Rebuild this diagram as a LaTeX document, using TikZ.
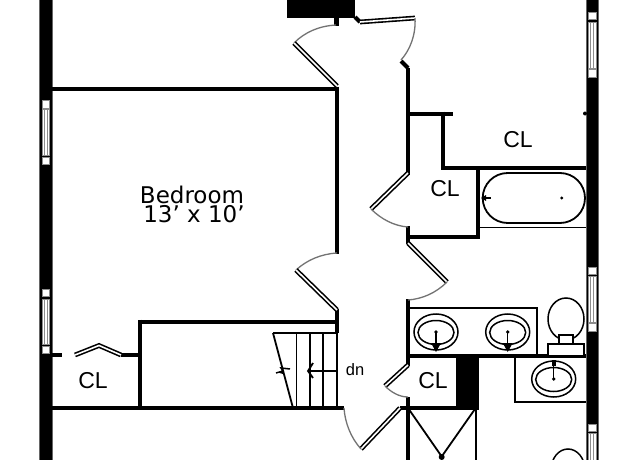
\documentclass[tikz,border=0pt]{standalone}
\usepackage{fontspec}
\setmainfont{Liberation Sans}
\newfontfamily\planfont{DejaVu Sans}
\tikzset{
  x=1pt,y=-1pt,
  wall/.style={line width=4pt,line cap=butt,black},
  thick wall/.style={fill=black,draw=black!60,line width=.6pt},
  thin/.style={line width=1.8pt,black},
  fine/.style={line width=1.5pt,black},
  swing/.style={line width=1.3pt,black!55},
  leaf/.style={double=white,double distance=1.6pt,line width=1.6pt,black},
  pane/.style={draw=black!45,fill=white,line width=.7pt},
  label/.style={font=\fontsize{23}{23}\selectfont,inner sep=0pt},
}
\newcommand{\planwindow}[6]{%
  \draw[pane] (#1,#3) rectangle (#2,#3+7.5);
  \draw[pane] (#1,#4) rectangle (#2,#5);
  \draw[draw=black!45,line width=.7pt] (#1+2.5,#4) -- (#1+2.5,#5) (#2-2.5,#4) -- (#2-2.5,#5);
  \draw[pane] (#1,#6) rectangle (#2,#6+7.5);
}
\newcommand{\plansink}[3]{%
  \draw[fine] (#1,#2) ellipse [x radius=22,y radius=18];
  \draw[fine] (#1,#2+.5) ellipse [x radius=18,y radius=12];
  \fill (#1,#2) circle (1.8);
  \draw[line width=1.2pt] (#1,#2) -- (#1,#3);
}
\begin{document}
\begin{tikzpicture}
\useasboundingbox (0,0) rectangle (640,460);
\clip (0,0) rectangle (640,460);
\fill[white] (0,0) rectangle (640,460);
% outer walls
\path[thick wall] (39,-2) rectangle (52,462);
\path[thick wall] (586,-2) rectangle (598,462);
% windows
\planwindow{42}{49.5}{100.5}{109}{155}{157}
\planwindow{42}{49.5}{289}{299}{344}{346}
\planwindow{588}{596}{12}{22}{68}{69.5}
\planwindow{588}{596}{267}{276}{322}{323.5}
\planwindow{588}{596}{424}{433}{480}{480}
% black blocks
\fill (287,0) rectangle (355,18);
\fill (455.5,356) rectangle (479,408);
\fill (334,18) rectangle (338.5,26);
% interior walls
\draw[wall] (52,89) -- (339,89);
\draw[wall] (337,87) -- (337,254);
\draw[wall] (337,309) -- (337,333);
\draw[wall] (140,321.5) -- (339,321.5);
\draw[wall] (140,319.5) -- (140,410);
\draw[wall] (52,408) -- (344,408);
\draw[wall] (52,355) -- (62,355);
\draw[wall] (121,355) -- (140,355);
\draw[wall] (408,68) -- (408,175);
\draw[wall] (401,61) -- (408,68);
\draw[wall] (406,113.5) -- (453,113.5);
\draw[wall] (443,111.5) -- (443,170);
\draw[wall] (441,167.5) -- (586,167.5);
\draw[wall] (478,166) -- (478,239);
\draw[wall] (406,237) -- (480,237);
\draw[wall] (408,226) -- (408,244);
\draw[wall] (408,299) -- (408,366);
\draw[wall] (406,356) -- (586,356);
\draw[wall] (408,397) -- (408,460);
\draw[wall] (400,408) -- (479,408);
\draw[wall] (355,17) -- (360,22);
% door leaves and swings
\draw[leaf] (360,22) -- (415,18);
\draw[swing] (415,18) .. controls (416,35) and (410,50) .. (401,60);
\draw[swing] (336,25) .. controls (319,26) and (305,32) .. (294,43);
\draw[leaf] (294,43) -- (337,86);
\draw[leaf] (408,173) -- (371,209);
\draw[swing] (371,209) .. controls (381,219) and (394,226) .. (408,227);
\draw[leaf] (408,243) -- (447,282);
\draw[swing] (447,282) .. controls (436,293) and (422,299) .. (408,300);
\draw[swing] (337,253) .. controls (321,254) and (307,260) .. (296,270);
\draw[leaf] (296,270) -- (337,310);
\draw[leaf] (408,365) -- (385,386);
\draw[swing] (385,386) .. controls (391,392) and (399,397) .. (408,397);
\draw[leaf] (400,408) -- (361,449);
\draw[swing] (344,408) .. controls (345,423) and (351,438) .. (361,449);
\draw[leaf] (75,355) -- (99,345.5) -- (121,355);
% stairs
\draw[thin] (273,333) -- (337,333);
\draw[thin] (296.5,333) -- (296.5,408);
\draw[thin] (310,333) -- (310,408);
\draw[thin] (323,333) -- (323,408);
\draw[thin] (337,333) -- (337,408);
\draw[thin] (273,333) -- (293,408);
\draw[fine] (276,373) -- (283,371) -- (281,368) -- (290,369);
\fill (278,372.5) -- (283,370) -- (283,374) -- cycle;
\draw[line width=1.2pt] (337,371) -- (308,371);
\draw[thin] (313,363) -- (308,371) -- (313,378);
% bath
\draw[thin,rounded corners=25pt] (482.7,173) rectangle (585,223);
\fill (561.7,198) circle (1.7);
\draw[fine] (482,198) -- (491,198);
\fill (481,198) -- (486,195) -- (486,201) -- cycle;
\draw[fine] (480,227.5) -- (586,227.5);
\fill (585,113.5) circle (2);
% vanity
\draw[fine] (408,308) -- (537,308) -- (537,356);
\plansink{436}{332}{350}
\plansink{507.7}{332}{350}
\fill (431,343) -- (441,343) -- (436,352) -- cycle;
\fill (502.7,343) -- (512.7,343) -- (507.7,352) -- cycle;
% toilet
\draw[fine] (566,319) ellipse [x radius=18,y radius=21];
\draw[fine,fill=white] (559,335) rectangle (573,344);
\draw[fine,fill=white] (548,344) rectangle (584,356);
% second vanity
\draw[fine] (515,356) -- (515,402) -- (586,402);
\plansink{553.7}{379}{360}
\fill (551.5,360) rectangle (556,366);
% shower
\draw[thin] (475.7,408) -- (475.7,460);
\draw[thin] (408,408) -- (441.7,456.5);
\draw[thin] (475.7,408) -- (441.7,456.5);
\fill (441.7,457) circle (3);
\draw[fine] (568,470) ellipse [x radius=17,y radius=21];
% labels
\node[label] (cla) at (518,139.5) {CL};
\node[label] (clb) at (445,189) {CL};
\node[label] (clc) at (433,381) {CL};
\node[label] (cld) at (93,381) {CL};
\node[inner sep=0pt,font=\fontsize{16.5}{16.5}\selectfont] (dn) at (355,370) {dn};
\node[inner sep=0pt,font=\planfont\fontsize{23}{23}\selectfont] (bedroom) at (192,195) {Bedroom};
\node[inner sep=0pt,font=\planfont\fontsize{23}{23}\selectfont] (size) at (194,214) {13’ x 10’};
\end{tikzpicture}
\end{document}
